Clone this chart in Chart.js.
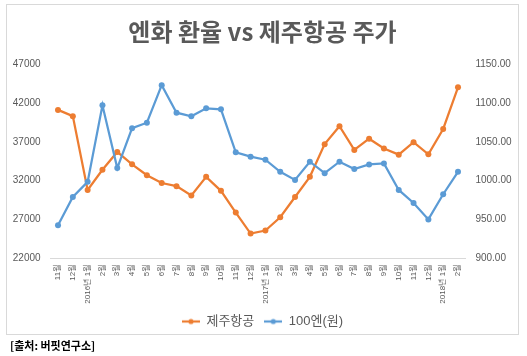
<!DOCTYPE html>
<html>
<head>
<meta charset="utf-8">
<script src="https://cdn.jsdelivr.net/npm/chart.js@4"></script>
<style>
  html, body { margin: 0; padding: 0; background: #ffffff; }
  #wrap { position: relative; width: 527px; height: 356px; overflow: hidden; }
  #frame { position: absolute; left: 6px; top: 4px; width: 511px; height: 329px; border: 1px solid #d9d9d9; }
  #c { position: absolute; left: 0; top: 0; }
  #src { position: absolute; left: 10px; top: 337px; font: bold 11px 'Noto Sans CJK KR', sans-serif; color: #000; white-space: nowrap; }
</style>
</head>
<body>
<div id="wrap">
  <div id="frame"></div>
  <canvas id="c" width="527" height="356"></canvas>
  <div id="src">[출처: 버핏연구소]</div>
</div>
<script>
const chartTitle = '엔화 환율 vs 제주항공 주가';
const categories = ['11월','12월','2016년 1월','2월','3월','4월','5월','6월','7월','8월','9월','10월','11월','12월',
  '2017년 1월','2월','3월','4월','5월','6월','7월','8월','9월','10월','11월','12월','2018년 1월','2월'];
const jejuAirName = '제주항공';
const jejuAir = [41100, 40300, 30800, 33400, 35700, 34100, 32700, 31700, 31300, 30100, 32500, 30700, 27900, 25200,
  25600, 27300, 29900, 32500, 36700, 39000, 35950, 37400, 36150, 35350, 36950, 35400, 38650, 44000];
const yenName = '100엔(원)';
const yen100 = [942.8, 979.0, 998.5, 1096.9, 1016.2, 1067.5, 1074.5, 1122.8, 1087.4, 1082.7, 1093.0, 1091.7, 1036.5, 1030.9,
  1027.0, 1011.4, 1001.0, 1024.4, 1009.7, 1024.4, 1015.0, 1020.9, 1022.2, 988.1, 971.3, 950.2, 982.6, 1011.4];
const leftTicks = [22000, 27000, 32000, 37000, 42000, 47000];
const rightTicks = [900, 950, 1000, 1050, 1100, 1150];

const ORANGE = '#ED7D31';
const BLUE = '#5B9BD5';
const GRAY = '#595959';
const NUMFONT = "'Liberation Sans', 'Noto Sans CJK KR', sans-serif";

function legendMarker(color) {
  const cv = document.createElement('canvas');
  cv.width = 18; cv.height = 8;
  const g = cv.getContext('2d');
  g.strokeStyle = color; g.lineWidth = 2.2;
  g.beginPath(); g.moveTo(0, 4); g.lineTo(18, 4); g.stroke();
  g.fillStyle = color;
  g.beginPath(); g.arc(9, 4, 2.6, 0, Math.PI * 2); g.fill();
  return cv;
}
const markers = [legendMarker(ORANGE), legendMarker(BLUE)];

new Chart(document.getElementById('c'), {
  type: 'line',
  data: {
    labels: categories,
    datasets: [
      { label: jejuAirName, data: jejuAir, yAxisID: 'y', borderColor: ORANGE, backgroundColor: ORANGE,
        borderWidth: 2.25, pointRadius: 3, pointBackgroundColor: ORANGE, pointBorderColor: ORANGE, pointBorderWidth: 0,
        tension: 0, order: 1 },
      { label: yenName, data: yen100, yAxisID: 'y1', borderColor: BLUE, backgroundColor: BLUE,
        borderWidth: 2.25, pointRadius: 3, pointBackgroundColor: BLUE, pointBorderColor: BLUE, pointBorderWidth: 0,
        tension: 0, order: 0 }
    ]
  },
  options: {
    responsive: false,
    animation: false,
    devicePixelRatio: 1,
    layout: { padding: { top: 4, left: 6, right: 8, bottom: 18 } },
    plugins: {
      title: {
        display: true, text: chartTitle, color: GRAY,
        font: { family: "'Noto Sans CJK KR', sans-serif", size: 24, weight: 'bold', lineHeight: 1.2 },
        padding: { top: 13.5, bottom: 17.7 }
      },
      legend: {
        display: true, position: 'bottom',
        labels: {
          color: GRAY, font: { family: NUMFONT, size: 13 }, padding: 10,
          usePointStyle: true, pointStyleWidth: 18,
          sort: (a, b) => a.datasetIndex - b.datasetIndex,
          generateLabels: (chart) => {
            const items = Chart.defaults.plugins.legend.labels.generateLabels(chart);
            items.forEach(it => { it.pointStyle = markers[it.datasetIndex]; });
            return items;
          }
        }
      },
      tooltip: { enabled: false }
    },
    scales: {
      x: {
        offset: true,
        grid: { display: true, drawOnChartArea: false, drawTicks: false },
        border: { display: true, color: '#d9d9d9', width: 1 },
        ticks: { color: GRAY, font: { family: NUMFONT, size: 8 }, minRotation: 90, maxRotation: 90, autoSkip: false, padding: 6 },
        afterFit: (s) => { s.height = 46.5; }
      },
      y: {
        position: 'left', min: leftTicks[0], max: leftTicks[leftTicks.length - 1],
        grid: { display: false, drawTicks: false }, border: { display: false },
        ticks: { stepSize: 5000, color: GRAY, font: { family: NUMFONT, size: 10 }, padding: 10,
          callback: (v) => String(v) },
        afterBuildTicks: (s) => { s.ticks = leftTicks.map(v => ({ value: v })); },
        afterFit: (s) => { s.width = 44.6; }
      },
      y1: {
        position: 'right', min: rightTicks[0], max: rightTicks[rightTicks.length - 1],
        grid: { display: false, drawTicks: false }, border: { display: false },
        ticks: { stepSize: 50, color: GRAY, font: { family: NUMFONT, size: 10 }, padding: 10,
          callback: (v) => Number(v).toFixed(2) },
        afterBuildTicks: (s) => { s.ticks = rightTicks.map(v => ({ value: v })); },
        afterFit: (s) => { s.width = 53.6; }
      }
    }
  }
});
</script>
</body>
</html>
